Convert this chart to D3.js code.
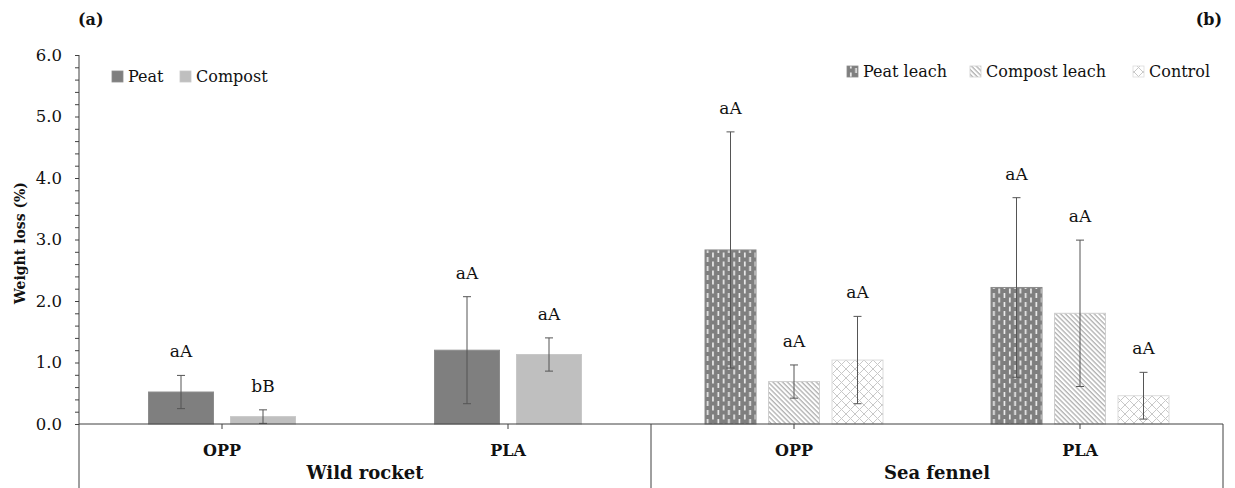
<!DOCTYPE html>
<html>
<head>
<meta charset="utf-8">
<script src="https://cdn.jsdelivr.net/npm/d3@7"></script>
<style>
  html, body { margin: 0; padding: 0; background: #fff; }
  svg { display: block; }
  text { font-family: "DejaVu Serif", "Liberation Serif", serif; fill: #111; }
</style>
</head>
<body>
<svg id="chart" width="1235" height="488"></svg>
<script>
// ---- data ------------------------------------------------------------
const plants = ["Wild rocket", "Sea fennel"];
const films = ["OPP", "PLA"];
const yTickValues = [0, 1, 2, 3, 4, 5, 6];

// (a) wild rocket: growing substrate
const rocketSeries = ["Peat", "Compost"];
const rocketMeans = [[0.52, 1.20], [0.12, 1.13]];      // [series][film]
const rocketErrors = [[0.27, 0.87], [0.11, 0.27]];
const rocketLetters = [["aA", "aA"], ["bB", "aA"]];

// (b) sea fennel: leachate treatment
const fennelSeries = ["Peat leach", "Compost leach", "Control"];
const fennelMeans = [[2.83, 2.22], [0.69, 1.80], [1.04, 0.46]];
const fennelErrors = [[1.92, 1.46], [0.27, 1.19], [0.71, 0.38]];
const fennelLetters = [["aA", "aA"], ["aA", "aA"], ["aA", "aA"]];

// ---- layout ----------------------------------------------------------
const svg = d3.select("#chart");
const plotLeft = 79, plotRight = 1223, plotTop = 55, baseY = 424, plotBottom = 488;
const axisColor = "#404040";

const y = d3.scaleLinear().domain([0, 6]).range([baseY, plotTop]);
const xPlant = d3.scaleBand().domain(plants).range([plotLeft, plotRight]);
const xFilm = d3.scaleBand().domain(films).range([0, xPlant.bandwidth()]);

// ---- fill patterns ---------------------------------------------------
const defs = svg.append("defs");

// dark grey with staggered white dashes
const pDash = defs.append("pattern").attr("id", "pat-peat-leach")
  .attr("patternUnits", "userSpaceOnUse").attr("width", 10.6).attr("height", 9);
pDash.append("rect").attr("width", 10.6).attr("height", 9).attr("fill", "#7f7f7f");
[[2, 0.5], [7.3, 5], [7.3, -4]].forEach(([dx, dy]) =>
  pDash.append("rect").attr("x", dx).attr("y", dy).attr("width", 1.6).attr("height", 5)
    .attr("fill", "#f2f2f2"));

// light diagonal hatching
const pDiag = defs.append("pattern").attr("id", "pat-compost-leach")
  .attr("patternUnits", "userSpaceOnUse").attr("width", 3.4).attr("height", 3.4)
  .attr("patternTransform", "rotate(-45)");
pDiag.append("rect").attr("width", 3.4).attr("height", 3.4).attr("fill", "#ffffff");
pDiag.append("line").attr("x1", 1).attr("x2", 1).attr("y1", 0).attr("y2", 3.4)
  .attr("stroke", "#a8a8a8").attr("stroke-width", 1.2);

// pale diamond lattice
const pLat = defs.append("pattern").attr("id", "pat-control")
  .attr("patternUnits", "userSpaceOnUse").attr("width", 9).attr("height", 9);
pLat.append("rect").attr("width", 9).attr("height", 9).attr("fill", "#ffffff");
pLat.append("path").attr("d", "M0,0L9,9M9,0L0,9")
  .attr("stroke", "#c8c8c8").attr("stroke-width", 1).attr("fill", "none");

const rocketFill = { "Peat": "#7f7f7f", "Compost": "#bfbfbf" };
const rocketStroke = { "Peat": "#8c8c8c", "Compost": "#c8c8c8" };
const fennelFill = {
  "Peat leach": "url(#pat-peat-leach)",
  "Compost leach": "url(#pat-compost-leach)",
  "Control": "url(#pat-control)"
};
const fennelStroke = { "Peat leach": "#8a8a8a", "Compost leach": "#cfcfcf", "Control": "#dcdcdc" };

// ---- bars ------------------------------------------------------------
function drawGroup(plant, series, means, errors, letters, fills, strokes, barWidth, step) {
  const span = step * (series.length - 1) + barWidth;
  const xs = d3.scaleBand().domain(series)
    .range([-span / 2, span / 2])
    .paddingInner((step - barWidth) / step).paddingOuter(0);
  const rows = [];
  series.forEach((s, i) => films.forEach((f, j) => rows.push({
    s, f, v: means[i][j], e: errors[i][j], t: letters[i][j]
  })));
  const g = svg.append("g");
  const cx = d => xPlant(plant) + xFilm(d.f) + xFilm.bandwidth() / 2 + xs(d.s);

  g.selectAll("rect.bar").data(rows).join("rect").attr("class", "bar")
    .attr("x", d => cx(d)).attr("width", xs.bandwidth())
    .attr("y", d => y(d.v)).attr("height", d => y(0) - y(d.v))
    .attr("fill", d => fills[d.s]).attr("stroke", d => strokes[d.s]).attr("stroke-width", 1);

  const eb = g.selectAll("g.err").data(rows).join("g").attr("class", "err")
    .attr("transform", d => `translate(${cx(d) + xs.bandwidth() / 2},0)`)
    .attr("stroke", "#555").attr("stroke-width", 1);
  eb.append("line").attr("y1", d => y(d.v + d.e)).attr("y2", d => y(Math.max(0, d.v - d.e)));
  eb.append("line").attr("x1", -4).attr("x2", 4).attr("y1", d => y(d.v + d.e)).attr("y2", d => y(d.v + d.e));
  eb.append("line").attr("x1", -4).attr("x2", 4)
    .attr("y1", d => y(Math.max(0, d.v - d.e))).attr("y2", d => y(Math.max(0, d.v - d.e)));

  g.selectAll("text.sig").data(rows).join("text").attr("class", "sig")
    .attr("x", d => cx(d) + xs.bandwidth() / 2).attr("y", d => y(d.v + d.e) - 18)
    .attr("text-anchor", "middle").attr("font-size", 17).text(d => d.t);
}

drawGroup("Wild rocket", rocketSeries, rocketMeans, rocketErrors, rocketLetters,
  rocketFill, rocketStroke, 65, 82);
drawGroup("Sea fennel", fennelSeries, fennelMeans, fennelErrors, fennelLetters,
  fennelFill, fennelStroke, 51, 63.5);

// ---- axes ------------------------------------------------------------
const fmt = d3.format(".1f");
const yAxis = d3.axisLeft(y)
  .tickValues(d3.range(0, 30.5).map(i => i / 5))
  .tickSize(4).tickPadding(13)
  .tickFormat(d => yTickValues.some(v => Math.abs(v - d) < 1e-9) ? fmt(d) : "");
const ya = svg.append("g").attr("transform", `translate(${plotLeft},0)`).call(yAxis);
ya.select(".domain").remove();
ya.selectAll(".tick line").attr("stroke", axisColor);
ya.selectAll(".tick text").attr("font-size", 16.5).attr("fill", "#111")
  .attr("font-family", "DejaVu Serif");

// y axis line running down through the category label area
svg.append("line").attr("x1", plotLeft).attr("x2", plotLeft).attr("y1", plotTop).attr("y2", plotBottom)
  .attr("stroke", axisColor).attr("stroke-width", 1);
// baseline
svg.append("line").attr("x1", plotLeft).attr("x2", plotRight).attr("y1", baseY).attr("y2", baseY)
  .attr("stroke", axisColor).attr("stroke-width", 1);
// separators between plant groups
[xPlant("Sea fennel"), plotRight].forEach(xv =>
  svg.append("line").attr("x1", xv).attr("x2", xv).attr("y1", baseY).attr("y2", plotBottom)
    .attr("stroke", axisColor).attr("stroke-width", 1));

// film ticks and labels
plants.forEach(p => {
  films.forEach(f => {
    const xc = xPlant(p) + xFilm(f) + xFilm.bandwidth() / 2;
    svg.append("line").attr("x1", xc).attr("x2", xc).attr("y1", baseY).attr("y2", baseY + 5)
      .attr("stroke", axisColor);
    svg.append("text").attr("x", xc).attr("y", 456).attr("text-anchor", "middle")
      .attr("font-size", 16).attr("font-weight", "bold").text(f);
  });
  svg.append("text").attr("x", xPlant(p) + xPlant.bandwidth() / 2).attr("y", 479)
    .attr("text-anchor", "middle").attr("font-size", 18).attr("font-weight", "bold").text(p);
});

// y axis title
svg.append("text").attr("transform", "translate(25,243) rotate(-90)")
  .attr("text-anchor", "middle").attr("font-size", 14).attr("font-weight", "bold")
  .text("Weight loss (%)");

// panel tags
svg.append("text").attr("x", 78).attr("y", 25).attr("font-size", 16).attr("font-weight", "bold").text("(a)");
svg.append("text").attr("x", 1222).attr("y", 25).attr("text-anchor", "end")
  .attr("font-size", 16).attr("font-weight", "bold").text("(b)");

// ---- legends ---------------------------------------------------------
function legend(items, xs, ty, fills, strokes) {
  items.forEach((s, i) => {
    svg.append("rect").attr("x", xs[i]).attr("y", ty - 11).attr("width", 11).attr("height", 11)
      .attr("fill", fills[s]).attr("stroke", strokes[s]).attr("stroke-width", 0.8);
    svg.append("text").attr("x", xs[i] + 16).attr("y", ty).attr("font-size", 16).text(s);
  });
}
legend(rocketSeries, [112, 180], 82, rocketFill, rocketStroke);
legend(fennelSeries, [847, 970, 1133], 77, fennelFill, fennelStroke);
</script>
</body>
</html>
